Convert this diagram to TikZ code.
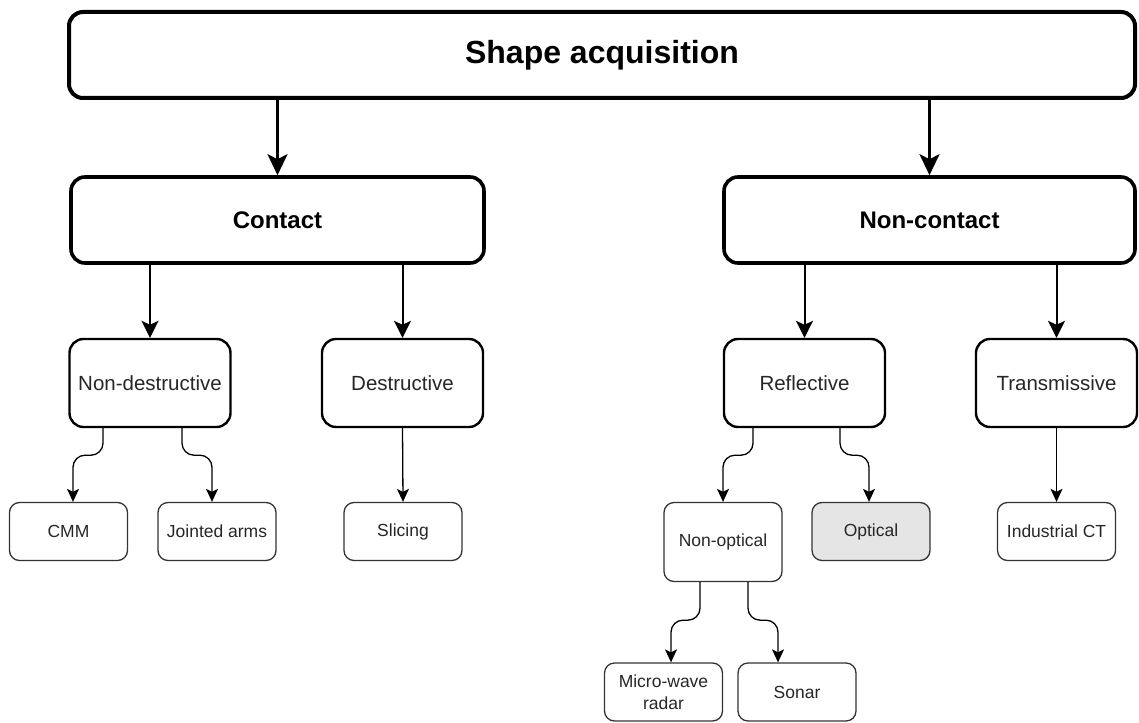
\documentclass[tikz,border=0pt]{standalone}
\usepackage{fontspec}
\setmainfont{Liberation Sans}
\usetikzlibrary{arrows.meta}

\begin{document}
\begin{tikzpicture}[x=1pt, y=-1pt,
    rootbox/.style={draw, line width=4pt, rounded corners=14pt, minimum width=1066pt, minimum height=86pt, font=\fontsize{32}{38}\selectfont\bfseries},
    mainbox/.style={draw, line width=3.6pt, rounded corners=14pt, minimum height=86pt, font=\fontsize{24}{29}\selectfont\bfseries},
    subbox/.style={draw, line width=2.4pt, rounded corners=14pt, minimum width=161pt, minimum height=88pt, text=black!85, font=\fontsize{20.5}{25}\selectfont},
    leafbox/.style={draw=black!80, line width=1.3pt, rounded corners=10pt, minimum width=118pt, minimum height=58pt, text=black!85, align=center, font=\fontsize{17.5}{22}\selectfont},
    bigarrow/.style={line width=3pt, -{Stealth[length=21pt, width=20pt, inset=5pt]}},
    midarrow/.style={line width=2pt, -{Stealth[length=17pt, width=17pt, inset=4pt]}},
    curvy/.style={line width=1.3pt, rounded corners=12pt, -{Stealth[length=13pt, width=12pt, inset=3pt]}}]
    \useasboundingbox (0,0) rectangle (1139,722);

    % Root
    \node[rootbox] (shape) at (602,55) {Shape acquisition};

    % Second level
    \node[mainbox, minimum width=413pt] (contact) at (277.5,220) {Contact};
    \node[mainbox, minimum width=411pt] (noncontact) at (929.5,220) {Non-contact};

    \draw[bigarrow] (shape.south -| contact) -- (contact.north);
    \draw[bigarrow] (shape.south -| noncontact) -- (noncontact.north);

    % Third level
    \node[subbox] (nondestr) at (150,383) {Non-destructive};
    \node[subbox] (destr) at (402.5,383) {Destructive};
    \node[subbox] (refl) at (804.5,383) {Reflective};
    \node[subbox] (trans) at (1056.5,383) {Transmissive};

    \draw[midarrow] (contact.south -| nondestr) -- (nondestr.north);
    \draw[midarrow] (contact.south -| destr) -- (destr.north);
    \draw[midarrow] (noncontact.south -| refl) -- (refl.north);
    \draw[midarrow] (noncontact.south -| trans) -- (trans.north);

    % Leaves
    \node[leafbox] (cmm) at (68.5,531.5) {CMM};
    \node[leafbox] (jointed) at (217,531.5) {Jointed arms};
    \node[leafbox] (slicing) at (403,531.5) {Slicing};
    \node[leafbox, minimum height=79pt] (nonopt) at (723,542) {Non-optical};
    \node[leafbox, fill=black!10] (optical) at (871,531.5) {Optical};
    \node[leafbox] (indct) at (1056.5,531.5) {Industrial CT};
    \node[leafbox] (microwave) at (663.5,692) {Micro-wave\\radar};
    \node[leafbox] (sonar) at (797,692) {Sonar};

    \draw[curvy] ([xshift=-47pt]nondestr.south) -- ++(0,27) -| ([xshift=4.5pt]cmm.north);
    \draw[curvy] ([xshift=32pt]nondestr.south) -- ++(0,27) -| ([xshift=-5pt]jointed.north);
    \draw[curvy] (destr.south) -- (slicing.north);
    \draw[curvy] ([xshift=-51.5pt]refl.south) -- ++(0,27) -| (nonopt.north);
    \draw[curvy] ([xshift=35.5pt]refl.south) -- ++(0,27) -| ([xshift=-2pt]optical.north);
    \draw[curvy] (trans.south) -- (indct.north);
    \draw[curvy] ([xshift=-23pt]nonopt.south) -- ++(0,38) -| ([xshift=7.5pt]microwave.north);
    \draw[curvy] ([xshift=25pt]nonopt.south) -- ++(0,38) -| ([xshift=-19pt]sonar.north);
\end{tikzpicture}
\end{document}
